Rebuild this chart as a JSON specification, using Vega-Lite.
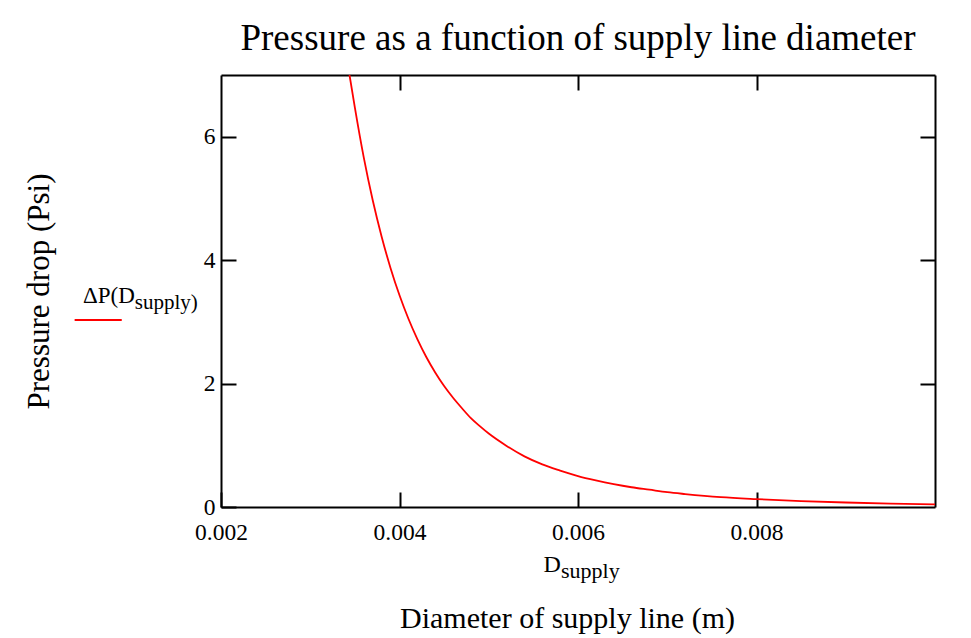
{
  "$schema": "https://vega.github.io/schema/vega-lite/v6.json",
  "width": 714,
  "height": 432,
  "autosize": {"type": "none"},
  "padding": {"left": 221, "top": 75, "right": 36, "bottom": 131},
  "background": "white",
  "title": {"text": "Pressure as a function of supply line diameter", "font": "Liberation Serif", "fontSize": 37, "fontWeight": "normal", "color": "black", "anchor": "middle", "offset": 16},
  "config": {
    "view": {"stroke": null},
    "axis": {"labelFont": "Liberation Serif", "labelFontSize": 23.5, "labelColor": "black", "labelFlush": false, "titleFont": "Liberation Serif", "titleFontWeight": "normal", "titleColor": "black", "titleFontSize": 30, "domainColor": "black", "domainWidth": 2, "tickColor": "black", "tickWidth": 2, "grid": false}
  },
  "datasets": {
    "curve": [
      {"D": 0.00344, "P": 7.0}, {"D": 0.0035, "P": 6.47}, {"D": 0.0036, "P": 5.66}, {"D": 0.0037, "P": 4.97},
      {"D": 0.0038, "P": 4.38}, {"D": 0.0039, "P": 3.87}, {"D": 0.004, "P": 3.43}, {"D": 0.0041, "P": 3.05},
      {"D": 0.0042, "P": 2.72}, {"D": 0.0043, "P": 2.43}, {"D": 0.0044, "P": 2.18}, {"D": 0.0045, "P": 1.96},
      {"D": 0.0046, "P": 1.77}, {"D": 0.0047, "P": 1.6}, {"D": 0.0048, "P": 1.44}, {"D": 0.0049, "P": 1.31},
      {"D": 0.005, "P": 1.19}, {"D": 0.0052, "P": 0.99}, {"D": 0.0054, "P": 0.82}, {"D": 0.0056, "P": 0.69},
      {"D": 0.0058, "P": 0.59}, {"D": 0.006, "P": 0.5}, {"D": 0.0062, "P": 0.43}, {"D": 0.0064, "P": 0.37},
      {"D": 0.0066, "P": 0.32}, {"D": 0.0068, "P": 0.28}, {"D": 0.007, "P": 0.24}, {"D": 0.0072, "P": 0.21},
      {"D": 0.0076, "P": 0.16}, {"D": 0.008, "P": 0.128}, {"D": 0.0085, "P": 0.096}, {"D": 0.009, "P": 0.073},
      {"D": 0.0095, "P": 0.056}, {"D": 0.01, "P": 0.044}
    ]
  },
  "layer": [
    {
      "layer": [
        {
          "data": {"name": "curve"},
          "mark": {"type": "line", "color": "#ff0000", "strokeWidth": 1.8, "interpolate": "monotone", "clip": true},
          "encoding": {
            "x": {"field": "D", "type": "quantitative", "scale": {"domain": [0.002, 0.01], "nice": false, "zero": false},
              "axis": {"orient": "bottom", "values": [0.002, 0.004, 0.006, 0.008], "format": ".3f", "tickSize": -15, "labelPadding": 28, "title": "Diameter of supply line (m)", "titlePadding": 60, "titleX": 346}},
            "y": {"field": "P", "type": "quantitative", "scale": {"domain": [0, 7], "nice": false, "zero": true},
              "axis": {"orient": "left", "values": [0, 2, 4, 6], "format": "d", "tickSize": -15, "labelPadding": 21, "title": "Pressure drop (Psi)", "titleFontSize": 31, "titlePadding": 148}}
          }
        },
        {
          "data": {"values": [{}]},
          "mark": {"type": "text", "font": "Liberation Serif", "fontSize": 23, "align": "right", "baseline": "alphabetic", "color": "black"},
          "encoding": {
            "x": {"datum": 0.001034, "type": "quantitative", "scale": {"domain": [0.002, 0.01], "nice": false, "zero": false}},
            "y": {"datum": 3.306, "type": "quantitative", "scale": {"domain": [0, 7], "nice": false}},
            "text": {"value": "ΔP(D"}
          }
        },
        {
          "data": {"values": [{}]},
          "mark": {"type": "text", "font": "Liberation Serif", "fontSize": 21, "align": "left", "baseline": "alphabetic", "color": "black"},
          "encoding": {
            "x": {"datum": 0.001034, "type": "quantitative", "scale": {"domain": [0.002, 0.01], "nice": false, "zero": false}},
            "y": {"datum": 3.209, "type": "quantitative", "scale": {"domain": [0, 7], "nice": false}},
            "text": {"value": "supply)"}
          }
        },
        {
          "data": {"values": [{}]},
          "mark": {"type": "rule", "color": "#ff0000", "strokeWidth": 1.8},
          "encoding": {
            "x": {"datum": 0.00036, "type": "quantitative", "scale": {"domain": [0.002, 0.01], "nice": false, "zero": false}},
            "x2": {"datum": 0.000888},
            "y": {"datum": 3.03, "type": "quantitative", "scale": {"domain": [0, 7], "nice": false}}
          }
        },
        {
          "data": {"values": [{}]},
          "mark": {"type": "text", "font": "Liberation Serif", "fontSize": 24, "align": "right", "baseline": "alphabetic", "color": "black"},
          "encoding": {
            "x": {"datum": 0.005809, "type": "quantitative", "scale": {"domain": [0.002, 0.01], "nice": false, "zero": false}},
            "y": {"datum": -1.053, "type": "quantitative", "scale": {"domain": [0, 7], "nice": false}},
            "text": {"value": "D"}
          }
        },
        {
          "data": {"values": [{}]},
          "mark": {"type": "text", "font": "Liberation Serif", "fontSize": 22, "align": "left", "baseline": "alphabetic", "color": "black"},
          "encoding": {
            "x": {"datum": 0.005809, "type": "quantitative", "scale": {"domain": [0.002, 0.01], "nice": false, "zero": false}},
            "y": {"datum": -1.151, "type": "quantitative", "scale": {"domain": [0, 7], "nice": false}},
            "text": {"value": "supply"}
          }
        }
      ]
    },
    {
      "data": {"name": "curve"},
      "mark": {"type": "line", "opacity": 0},
      "encoding": {
        "x": {"field": "D", "type": "quantitative", "scale": {"domain": [0.002, 0.01], "nice": false, "zero": false},
          "axis": {"orient": "top", "values": [0.004, 0.006, 0.008], "labels": false, "tickSize": -15, "title": null}},
        "y": {"field": "P", "type": "quantitative", "scale": {"domain": [0, 7], "nice": false, "zero": true},
          "axis": {"orient": "right", "values": [2, 4, 6], "labels": false, "tickSize": -15, "title": null}}
      }
    }
  ],
  "resolve": {"scale": {"x": "independent", "y": "independent"}}
}
